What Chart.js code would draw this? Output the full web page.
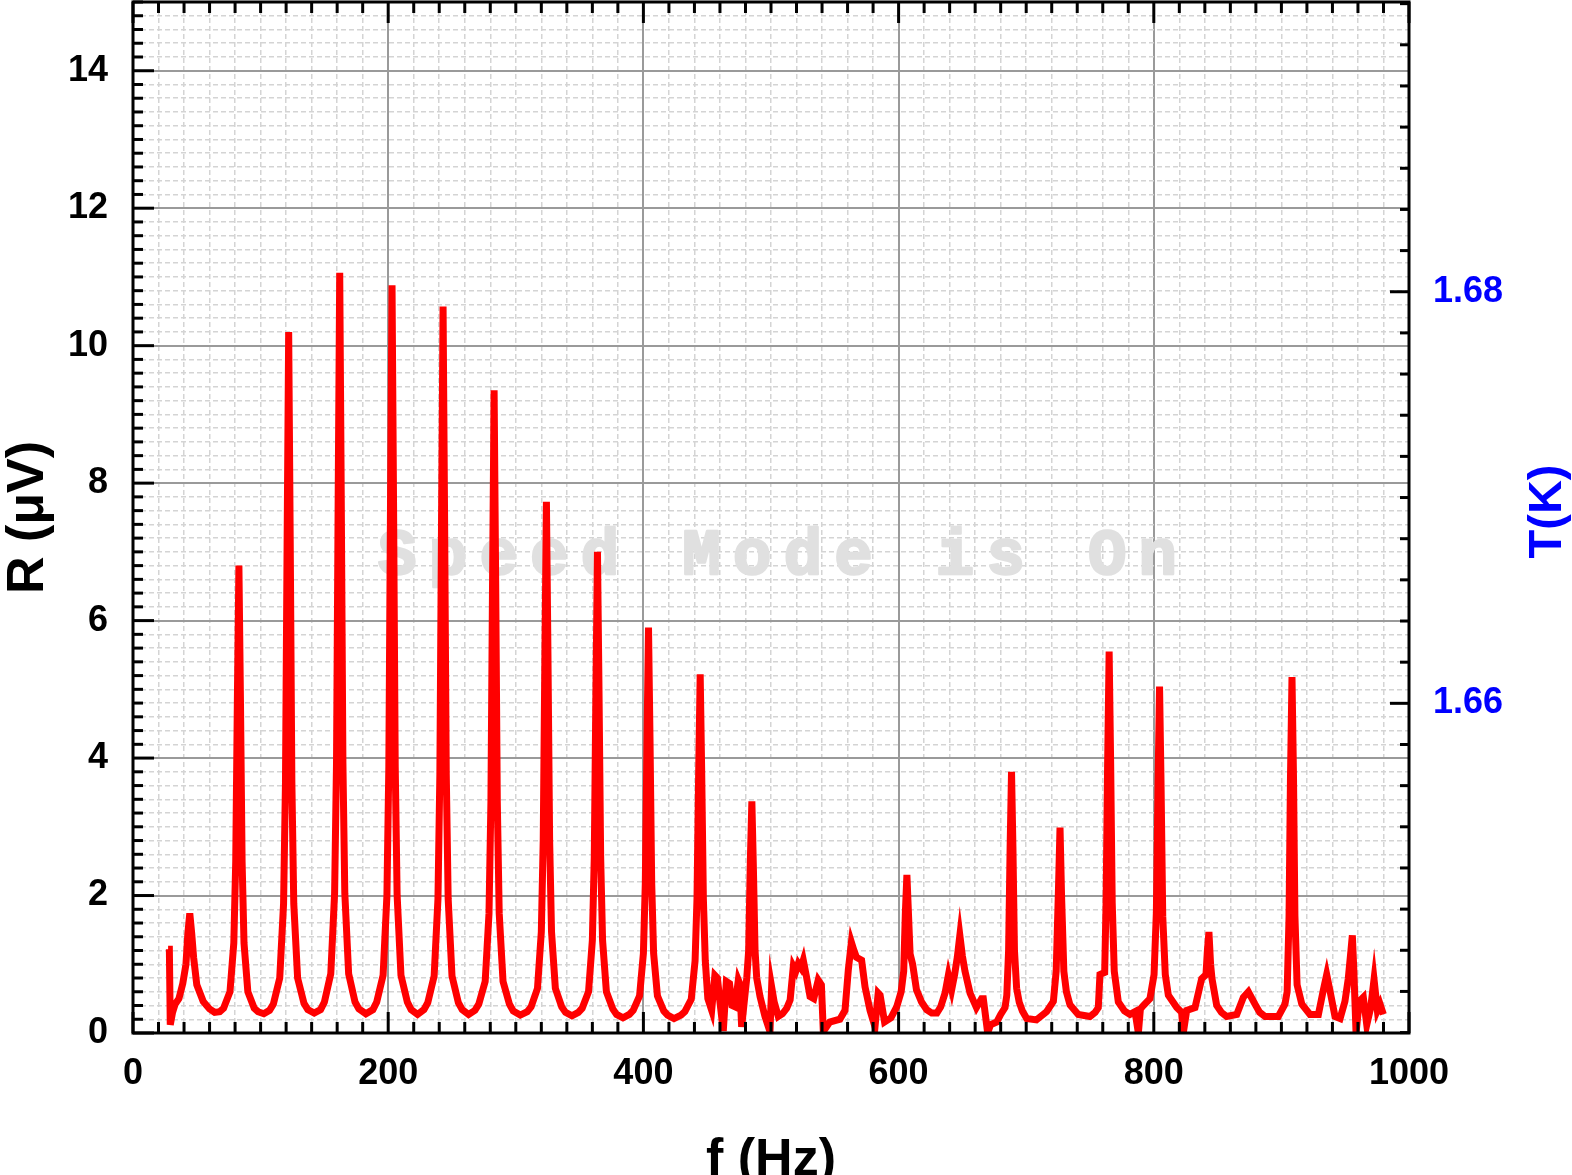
<!DOCTYPE html>
<html>
<head>
<meta charset="utf-8">
<script src="https://cdn.jsdelivr.net/npm/chart.js@4.4.1/dist/chart.umd.min.js"></script>
<style>
  html, body { margin: 0; padding: 0; background: #ffffff; }
  canvas { display: block; }
</style>
</head>
<body>
<canvas id="c" width="1572" height="1175"></canvas>
<script>
// ---------------- data ----------------
const freqHz = [
  27.5, 28.5, 29.2, 31, 33, 36, 39, 41.5, 43, 44.5, 46, 47.5, 50, 55, 60, 64,
  68, 71, 76, 79, 80.5, 81.8, 83, 84.2, 85.5, 87, 90, 95, 98, 102.5,
  107, 110, 115, 118, 119.5, 120.8, 122, 123.2, 124.5, 126, 129, 134, 137, 142,
  147, 150, 155, 158, 159.5, 160.8, 162, 163.2, 164.5, 166, 169, 174, 177, 182.5,
  188, 191, 196, 199, 200.5, 201.8, 203, 204.2, 205.5, 207, 210, 215, 218, 223,
  228, 231, 236, 239, 240.5, 241.8, 243, 244.2, 245.5, 247, 250, 255, 258, 263,
  268, 271, 276, 279, 280.5, 281.8, 283, 284.2, 285.5, 287, 290, 295, 298, 303.5,
  309, 312, 317, 320, 321.5, 322.8, 324, 325.2, 326.5, 328, 331, 336, 339, 344,
  349, 352, 357, 360, 361.5, 362.8, 364, 365.2, 366.5, 368, 371, 376, 379, 384,
  389, 392, 397, 400, 401.5, 402.8, 404, 405.2, 406.5, 408, 411, 416, 419, 424,
  429.5, 432.5, 437.5, 440.5, 442, 443.3, 444.5, 445.7, 447, 448.5, 450.5,
  453.5, 456, 458, 460, 462.6, 465, 467.5, 469.5, 471.8, 474.4, 475.5, 477, 479, 481,
  482.5, 483.8, 485, 486.2, 487.5, 488.8, 491.4, 495.3, 499.2, 500.5, 502.5, 505.7,
  509, 512.3, 515, 517.5, 519.5, 521.4, 523.5, 525.3, 527.5, 530.6, 533.5, 537, 539.5, 541, 546, 554, 558,
  560.6, 563, 565, 567, 571, 573.7, 577.6, 581.5, 584, 585.5, 589, 594, 598.5,
  602, 604, 605.3, 606.5, 607.7, 609, 611, 614, 618, 622, 626, 630,
  633, 636.4, 639, 641.6, 644, 646, 648, 650, 652, 656, 661, 665, 666.4, 669.8, 672, 676.9, 680, 683.4,
  684.8, 686.2, 687.4, 688.5, 689.6, 690.8, 692.5, 694.5, 697, 700.4, 708, 716, 721.3,
  723.5, 725.3, 726.5, 727.7, 729.5, 731.5, 734.3, 740.8, 750, 754, 756.5,
  757.8, 761.5, 762.6, 763.8, 765, 766.2, 767.4, 769, 772.2, 777, 781.3, 785.3, 787.9, 789.5, 791.8, 797,
  800.2, 802, 803.3, 804.5, 805.7, 807, 809, 811.4, 818, 821.8, 823.1, 825.8, 832.3,
  837.5, 840.9, 842, 843.2, 844.5, 845.6, 849.3, 853, 857.1, 865, 870.2, 874.1, 879.3, 883, 887.2, 897.6, 902.8,
  904.5, 906, 907.1, 908.3, 909.5, 910.6, 912.3, 916, 922.4, 929,
  932.8, 935.5, 938, 942, 946, 949.8, 952.4, 954.5, 955.6, 956.8, 958.5, 961, 964.2, 966.9, 970, 972.6, 975.2, 977.3, 979.9
];
const rMicroV = [
  1.22, 1.22, 0.12, 0.3, 0.42, 0.5, 0.72, 1.0, 1.45, 1.74, 1.45, 1.1, 0.7, 0.46, 0.35, 0.3,
  0.31, 0.36, 0.6, 1.31, 2.49, 4.86, 6.8, 4.86, 2.49, 1.31, 0.6, 0.36, 0.31, 0.28,
  0.33, 0.42, 0.8, 1.88, 3.65, 7.2, 10.2, 7.2, 3.65, 1.88, 0.8, 0.43, 0.34, 0.29,
  0.34, 0.45, 0.86, 2.03, 3.94, 7.8, 11.06, 7.8, 3.94, 2.03, 0.86, 0.45, 0.35, 0.28,
  0.34, 0.45, 0.84, 2.0, 3.88, 7.68, 10.88, 7.68, 3.88, 2.0, 0.84, 0.45, 0.34, 0.27,
  0.34, 0.44, 0.83, 1.95, 3.77, 7.46, 10.57, 7.46, 3.77, 1.95, 0.83, 0.44, 0.34, 0.27,
  0.33, 0.42, 0.75, 1.74, 3.36, 6.62, 9.35, 6.62, 3.36, 1.74, 0.75, 0.42, 0.32, 0.26,
  0.31, 0.38, 0.65, 1.47, 2.81, 5.5, 7.73, 5.5, 2.81, 1.47, 0.65, 0.38, 0.3, 0.25,
  0.3, 0.36, 0.6, 1.35, 2.56, 5.0, 7.0, 5.0, 2.56, 1.35, 0.6, 0.35, 0.27, 0.22,
  0.27, 0.33, 0.54, 1.16, 2.18, 4.24, 5.9, 4.24, 2.18, 1.16, 0.54, 0.32, 0.26, 0.21,
  0.26, 0.31, 0.49, 1.05, 1.95, 3.77, 5.22, 3.77, 1.95, 1.05, 0.5,
  0.33, 0.84, 0.8, 0.45, 0.03, 0.75, 0.72, 0.4, 0.38, 0.77, 0.72, 0.09, 0.45, 0.8,
  1.2, 2.5, 3.37, 2.4, 1.2, 0.8, 0.53, 0.24, 0.02, 0.67, 0.45, 0.24,
  0.28, 0.36, 0.48, 0.97, 0.9, 1.01, 0.95, 1.06, 0.85, 0.53, 0.5, 0.77, 0.7, 0.02, 0.16, 0.2, 0.33,
  0.92, 1.32, 1.2, 1.1, 1.06, 0.67, 0.33, 0.09, 0.58, 0.55, 0.16, 0.22, 0.38,
  0.6, 0.9, 1.75, 2.3, 1.75, 1.15, 1.0, 0.63, 0.45, 0.34, 0.29, 0.29,
  0.38, 0.58, 0.84, 0.63, 0.86, 1.1, 1.42, 1.12, 0.9, 0.58, 0.37, 0.5, 0.5, 0.0, 0.12, 0.16, 0.27, 0.37,
  0.55, 1.2, 2.7, 3.8, 2.7, 1.2, 0.65, 0.45, 0.32, 0.21, 0.19, 0.31, 0.46,
  0.9, 2.1, 2.99, 2.0, 0.9, 0.6, 0.41, 0.27, 0.24, 0.3, 0.37,
  0.85, 0.88, 1.9, 3.9, 5.55, 3.9, 1.9, 0.9, 0.45, 0.32, 0.27, 0.31, 0.0, 0.35, 0.4, 0.5,
  0.85, 1.75, 3.6, 5.04, 3.6, 1.7, 0.85, 0.55, 0.37, 0.3, 0.0, 0.33, 0.37,
  0.79, 0.85, 1.2, 1.47, 1.0, 0.79, 0.4, 0.3, 0.24, 0.27, 0.52, 0.6, 0.42, 0.3, 0.24, 0.24, 0.42,
  0.6, 1.7, 3.7, 5.18, 3.7, 1.7, 0.7, 0.42, 0.27, 0.27,
  0.62, 0.85, 0.62, 0.24, 0.21, 0.46, 0.79, 1.2, 1.42, 0.9, 0.0, 0.46, 0.52, 0.12, 0.37, 0.78, 0.33, 0.42, 0.27
];

// tick labels
const xLabelValues = [0, 200, 400, 600, 800, 1000];
const yLabelValues = [0, 2, 4, 6, 8, 10, 12, 14];
const tLabelValues = [1.66, 1.68];

// axis ranges / steps
const xRange = [0, 1000];
const yRange = [0, 15];
const tRange = [1.64398, 1.69408];
const xMinorStep = 20;
const yMinorStep = 0.2;
const tMinorStep = 0.002;

// texts
const xTitle = 'f (Hz)';
const yTitle = 'R (\u03BCV)';
const tTitle = 'T(K)';
const watermarkText = 'Speed Mode is On';

// ---------------- chart ----------------
const FONT = '"Liberation Sans", Arial, Helvetica, sans-serif';
const near = (v, list) => list.some(m => Math.abs(m - v) < 1e-6);

const points = freqHz.map((f, i) => ({ x: f, y: rMicroV[i] }));

const majorColor = '#9a9a9a';
const minorColor = '#d4d4d4';

function gridOpts(labelList) {
  return {
    drawTicks: false,
    color: ctx => (ctx.tick && near(ctx.tick.value, labelList)) ? majorColor : minorColor,
    lineWidth: ctx => (ctx.tick && near(ctx.tick.value, labelList)) ? 2 : 1.5
  };
}
function borderOpts(labelList) {
  return {
    display: false,
    dash: ctx => (ctx.tick && !near(ctx.tick.value, labelList)) ? [5, 3] : []
  };
}

const framePlugin = {
  id: 'frameTicks',
  beforeDatasetsDraw(chart) {
    const { ctx, chartArea } = chart;
    ctx.save();
    ctx.font = 'bold 64px "Liberation Mono", "DejaVu Sans Mono", monospace';
    ctx.fillStyle = '#e0e0e0';
    ctx.strokeStyle = '#e0e0e0';
    ctx.lineWidth = 2.5;
    ctx.lineJoin = 'round';
    ctx.textAlign = 'left';
    ctx.textBaseline = 'alphabetic';
    if ('letterSpacing' in ctx) ctx.letterSpacing = '12.3px';
    ctx.fillText(watermarkText, chartArea.left + 245, chartArea.top + 572);
    ctx.strokeText(watermarkText, chartArea.left + 245, chartArea.top + 572);
    ctx.restore();
  },
  afterDatasetsDraw(chart) {
    const { ctx, chartArea } = chart;
    const { left, right, top, bottom } = chartArea;
    const xs = chart.scales.x, ys = chart.scales.y, ts = chart.scales.y2;
    ctx.save();
    ctx.strokeStyle = '#000000';
    ctx.lineWidth = 3;
    ctx.lineCap = 'butt';
    const seg = (x1, y1, x2, y2) => { ctx.beginPath(); ctx.moveTo(x1, y1); ctx.lineTo(x2, y2); ctx.stroke(); };
    xs.ticks.forEach(t => {
      const px = xs.getPixelForValue(t.value);
      const L = near(t.value, xLabelValues) ? 21 : 11;
      seg(px, bottom, px, bottom - L);
      seg(px, top, px, top + L);
    });
    ys.ticks.forEach(t => {
      const py = ys.getPixelForValue(t.value);
      const L = near(t.value, yLabelValues) ? 21 : 10;
      seg(left, py, left + L, py);
    });
    ts.ticks.forEach(t => {
      const py = ts.getPixelForValue(t.value);
      const L = near(t.value, tLabelValues) ? 19 : 9;
      seg(right, py, right - L, py);
    });
    ctx.strokeRect(left, top, right - left, bottom - top);
    ctx.restore();
  },
  afterDraw(chart) {
    const { ctx, chartArea } = chart;
    ctx.save();
    ctx.translate(chartArea.right + 139, (chartArea.top + chartArea.bottom) / 2 - 6);
    ctx.rotate(-Math.PI / 2);
    ctx.font = 'bold 47px ' + FONT;
    ctx.fillStyle = '#0000ff';
    ctx.textAlign = 'center';
    ctx.textBaseline = 'middle';
    ctx.fillText(tTitle, 0, 0);
    ctx.restore();
  }
};

new Chart(document.getElementById('c'), {
  type: 'line',
  data: {
    datasets: [{
      data: points,
      borderColor: '#ff0000',
      borderWidth: 7,
      pointRadius: 0,
      pointHoverRadius: 0,
      tension: 0,
      fill: false
    }]
  },
  options: {
    responsive: false,
    animation: false,
    devicePixelRatio: 1,
    events: [],
    layout: { padding: { top: 2, left: 0, right: 0, bottom: 0 } },
    plugins: { legend: { display: false }, tooltip: { enabled: false }, title: { display: false } },
    scales: {
      x: {
        type: 'linear', position: 'bottom', min: xRange[0], max: xRange[1],
        ticks: {
          stepSize: xMinorStep, autoSkip: false, maxRotation: 0, minRotation: 0, padding: 19,
          color: '#000000', font: { family: FONT, size: 36, weight: 'bold' },
          callback: v => near(v, xLabelValues) ? String(Math.round(v)) : ''
        },
        grid: gridOpts(xLabelValues),
        border: borderOpts(xLabelValues),
        title: {
          display: true, text: xTitle, color: '#000000',
          font: { family: FONT, size: 52, weight: 'bold', lineHeight: 0.5 },
          padding: { top: 0, bottom: 1 }
        },
        afterFit(s) { s.height = 142; s.paddingLeft = 0; s.paddingRight = 0; }
      },
      y: {
        type: 'linear', position: 'left', min: yRange[0], max: yRange[1],
        ticks: {
          stepSize: yMinorStep, autoSkip: false, padding: 25,
          color: '#000000', font: { family: FONT, size: 36, weight: 'bold' },
          callback: v => near(v, yLabelValues) ? String(Math.round(v)) : ''
        },
        grid: gridOpts(yLabelValues),
        border: borderOpts(yLabelValues),
        title: {
          display: true, text: yTitle, color: '#000000',
          font: { family: FONT, size: 52, weight: 'bold', lineHeight: 0.5 },
          padding: { top: 16, bottom: 0 }
        },
        afterFit(s) { s.width = 133; s.paddingTop = 0; s.paddingBottom = 0; }
      },
      y2: {
        type: 'linear', position: 'right', min: tRange[0], max: tRange[1],
        ticks: {
          stepSize: tMinorStep, includeBounds: false, autoSkip: false, padding: 24,
          color: '#0000ff', font: { family: FONT, size: 36, weight: 'bold' },
          callback: v => near(v, tLabelValues) ? v.toFixed(2) : ''
        },
        grid: { drawOnChartArea: false, drawTicks: false },
        border: { display: false },
        afterFit(s) { s.width = 163; s.paddingTop = 0; s.paddingBottom = 0; }
      }
    }
  },
  plugins: [framePlugin]
});
</script>
</body>
</html>
